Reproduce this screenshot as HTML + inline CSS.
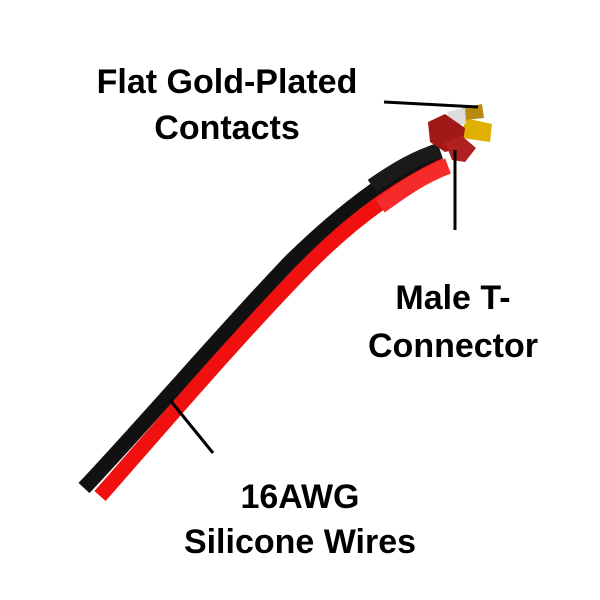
<!DOCTYPE html>
<html><head><style>
body{margin:0;background:#fff;}
svg{display:block}
text{font-family:"Liberation Sans",sans-serif;font-weight:bold;fill:#000;font-size:34px;text-anchor:middle}
</style></head><body>
<svg width="600" height="600" viewBox="0 0 600 600">
<path d="M84,488 C150,418 225,330 290,262 C345,208 395,172 440,152" stroke="#111" stroke-width="15" fill="none"/>
<path d="M100,496 C160,428 235,340 305,268 C352,220 400,186 445,165" stroke="#f01010" stroke-width="15" fill="none"/>
<path d="M380,206 C405,188 422,176 448,166" stroke="#f52a2a" stroke-width="16" fill="none"/>
<path d="M372,186 C398,168 416,158 440,150" stroke="#1a1a1a" stroke-width="15" fill="none"/>
<polygon points="465,118 492,124 490,142 462,138" fill="#e0b000"/>
<polygon points="462,108 482,104 484,118 464,120" fill="#b88a10"/>
<polygon points="447,112 465,108 466,124 450,126" fill="#ddd"/>
<polygon points="428,122 445,114 465,128 462,148 445,152 430,142" fill="#a01818"/>
<polygon points="445,142 462,136 476,148 465,162 452,160" fill="#b02020"/>
<line x1="384" y1="102" x2="478" y2="107" stroke="#000" stroke-width="3"/>
<line x1="455" y1="150" x2="455" y2="230" stroke="#000" stroke-width="3"/>
<line x1="170" y1="400" x2="213" y2="453" stroke="#000" stroke-width="3"/>
<text x="227" y="93">Flat Gold-Plated</text>
<text x="227" y="139">Contacts</text>
<text x="453" y="309">Male T-</text>
<text x="453" y="357">Connector</text>
<text x="300" y="508">16AWG</text>
<text x="300" y="553">Silicone Wires</text>
</svg>
</body></html>
